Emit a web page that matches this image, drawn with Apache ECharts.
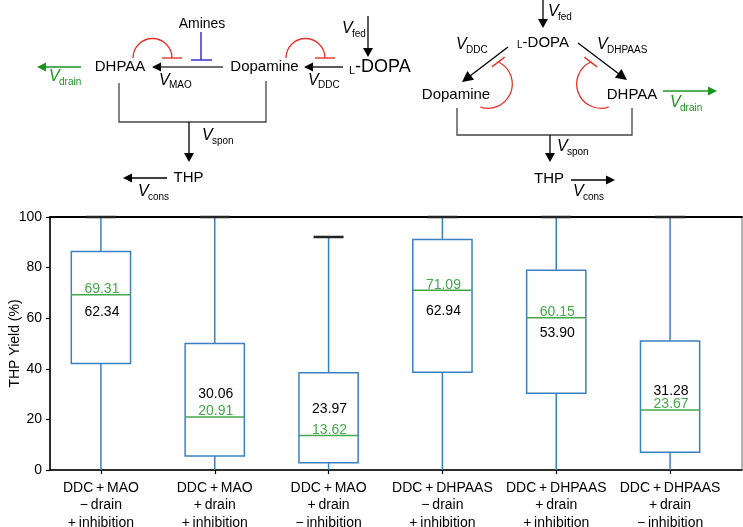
<!DOCTYPE html>
<html>
<head>
<meta charset="utf-8">
<script src="https://cdn.jsdelivr.net/npm/echarts@6/dist/echarts.min.js"></script>
<style>html,body{margin:0;padding:0;background:#fff;}#c{width:743px;height:527px;}</style>
</head>
<body>
<div id="c"></div>
<script>
// ---- data ----
const categories = [
  'DDC\u2009+\u2009MAO\n\u2212\u2009drain\n+\u2009inhibition',
  'DDC\u2009+\u2009MAO\n+\u2009drain\n+\u2009inhibition',
  'DDC\u2009+\u2009MAO\n+\u2009drain\n\u2212\u2009inhibition',
  'DDC\u2009+\u2009DHPAAS\n\u2212\u2009drain\n+\u2009inhibition',
  'DDC\u2009+\u2009DHPAAS\n+\u2009drain\n+\u2009inhibition',
  'DDC\u2009+\u2009DHPAAS\n+\u2009drain\n\u2212\u2009inhibition'
];
const whiskerLow  = [0, 0, 0, 0, 0, 0];
const q1          = [42.1, 5.5, 2.9, 38.6, 30.3, 7.0];
const medians     = [69.31, 20.91, 13.62, 71.09, 60.15, 23.67];
const q3          = [86.4, 50.0, 38.4, 91.1, 79.0, 51.0];
const whiskerHigh = [100, 100, 92.1, 100, 100, 100];
const means       = [62.34, 30.06, 23.97, 62.94, 53.90, 31.28];
const yTickValues = [0, 20, 40, 60, 80, 100];

const FONT = '"Liberation Sans", Arial, sans-serif';
const BLUE = '#3b80c0';
const GREEN = '#43a84a';
const DGREEN = '#1e9420';
const RED = '#e5332a';

const boxData = categories.map((c, i) => [i, whiskerLow[i], q1[i], medians[i], q3[i], whiskerHigh[i], means[i]]);

// ---- diagram helpers ----
function txt(x, y, s, size, color, align, italic) {
  return {type: 'text', x: x, y: y, z: 10,
    style: {text: s, font: (italic ? 'italic ' : '') + size + 'px ' + FONT, fill: color || '#000',
      textAlign: align || 'center', textVerticalAlign: 'middle'}};
}
function vlab(x, y, sub, color) {
  return [txt(x, y, 'V', 16, color, 'left', true), txt(x + 10, y + 5, sub, 10, color, 'left')];
}
function seg(x1, y1, x2, y2, color, lw) {
  return {type: 'line', z: 10, shape: {x1: x1, y1: y1, x2: x2, y2: y2}, style: {stroke: color, lineWidth: lw}};
}
function arrow(x1, y1, x2, y2, color, lw, hl, hw, headColor) {
  const dx = x2 - x1, dy = y2 - y1, L = Math.hypot(dx, dy), ux = dx / L, uy = dy / L;
  const bx = x2 - ux * hl, by = y2 - uy * hl;
  return [seg(x1, y1, bx + ux * 1, by + uy * 1, color, lw),
    {type: 'polygon', z: 10, shape: {points: [[x2, y2], [bx - uy * hw, by + ux * hw], [bx + uy * hw, by - ux * hw]]},
     style: {fill: headColor || color}}];
}
function arc(cx, cy, r, a0, a1, color) {
  return {type: 'arc', z: 10, shape: {cx: cx, cy: cy, r: r, startAngle: a0, endAngle: a1, clockwise: true},
    style: {stroke: color, fill: 'none', lineWidth: 1.3}};
}
function bar(cx, cy, ux, uy, h, color) {
  return seg(cx - ux * h, cy - uy * h, cx + ux * h, cy + uy * h, color, 1.4);
}
const D = Math.PI / 180;

let els = [];
// left diagram
els.push(txt(202, 24, 'Amines', 14));
els.push(seg(201, 32, 201, 60, '#3535c8', 1.5), seg(191, 60, 212, 60, '#3535c8', 1.5));
els.push(arc(152.5, 58, 19.5, Math.PI, 2 * Math.PI, RED), seg(162, 58, 182, 58, RED, 1.4));
els.push(arc(305.5, 58, 19.5, Math.PI, 2 * Math.PI, RED), seg(315, 58, 335, 58, RED, 1.4));
els.push(txt(120, 67, 'DHPAA', 15), txt(264.5, 67, 'Dopamine', 15));
els.push(...arrow(223, 67, 152, 67, '#707070', 2.2, 9, 4.5, '#000'));
els.push(...vlab(159, 80.5, 'MAO'));
els.push(...arrow(343, 67, 304, 67, '#000', 1.3, 9, 4.5));
els.push(...vlab(308, 80.5, 'DDC'));
els.push({type: 'text', x: 349, y: 67, z: 10, style: {text: '{a|L}{b|-DOPA}', textAlign: 'left', textVerticalAlign: 'middle', fill: '#000',
  rich: {a: {font: '11px ' + FONT, verticalAlign: 'bottom', fill: '#000'}, b: {font: '18px ' + FONT, verticalAlign: 'bottom', fill: '#000'}}}});
els.push(...arrow(368, 16, 368, 57, '#000', 1.3, 9, 5));
els.push(...vlab(342, 29, 'fed'));
els.push(...arrow(81, 67, 37, 67, DGREEN, 1.5, 9, 4.5));
els.push(...vlab(49, 77, 'drain', DGREEN));
els.push({type: 'polyline', z: 10, shape: {points: [[119, 83], [119, 122], [266, 122], [266, 81]]}, style: {stroke: '#444', lineWidth: 1.3, fill: 'none'}});
els.push(...arrow(189, 122, 189, 162, '#000', 1.3, 9, 5));
els.push(...vlab(202, 136, 'spon'));
els.push(txt(188.5, 178, 'THP', 15));
els.push(...arrow(167, 178, 123, 178, '#000', 1.3, 9, 4.5));
els.push(...vlab(138, 192, 'cons'));
// right diagram
els.push(...arrow(543, 0, 543, 28, '#000', 1.3, 9, 5));
els.push(...vlab(548, 12, 'fed'));
els.push({type: 'text', x: 543, y: 43, z: 10, style: {text: '{a|L}{b|-DOPA}', textAlign: 'center', textVerticalAlign: 'middle', fill: '#000',
  rich: {a: {font: '10px ' + FONT, verticalAlign: 'bottom', fill: '#000'}, b: {font: '15px ' + FONT, verticalAlign: 'bottom', fill: '#000'}}}});
els.push(...arrow(508, 47, 462, 82, '#000', 1.3, 11, 5.5));
els.push(...vlab(456, 45, 'DDC'));
els.push(...arrow(578, 43, 627, 80, '#000', 1.3, 11, 5.5));
els.push(...vlab(597, 45, 'DHPAAS'));
els.push(txt(456, 95, 'Dopamine', 15), txt(632, 95, 'DHPAA', 15));
els.push(arc(488, 84, 24.3, -64.9 * D, 108.5 * D, RED), bar(498.3, 62, -0.796, 0.605, 8, RED));
els.push(arc(601, 84, 24.3, 71.5 * D, 244.9 * D, RED), bar(590.7, 62, 0.796, 0.605, 8, RED));
els.push(...arrow(663, 91, 717, 91, DGREEN, 1.5, 9, 4.5));
els.push(...vlab(670, 103, 'drain', DGREEN));
els.push({type: 'polyline', z: 10, shape: {points: [[457, 108], [457, 135], [632, 135], [632, 108]]}, style: {stroke: '#444', lineWidth: 1.3, fill: 'none'}});
els.push(...arrow(550, 135, 550, 162, '#000', 1.3, 9, 5));
els.push(...vlab(557, 147, 'spon'));
els.push(txt(549, 179, 'THP', 15));
els.push(...arrow(571, 180, 615, 180, '#000', 1.3, 9, 4.5));
els.push(...vlab(573, 192, 'cons'));

const chart = echarts.init(document.getElementById('c'), null, {renderer: 'canvas'});
chart.setOption({
  backgroundColor: '#fff',
  animation: false,
  textStyle: {fontFamily: FONT},
  grid: [
    {left: 50, right: 1, top: 217, bottom: 57, outerBoundsMode: 'none', containLabel: false,
     show: true, borderColor: '#666', borderWidth: 1, backgroundColor: 'transparent'},
    {left: 44, right: 16, top: 217, bottom: 57, outerBoundsMode: 'none', containLabel: false}
  ],
  xAxis: [
    {type: 'value', gridIndex: 0, min: 0, max: 1, axisLine: {show: true, lineStyle: {color: '#000', width: 1.5}},
     axisTick: {show: false}, axisLabel: {show: false}, splitLine: {show: false}},
    {type: 'category', gridIndex: 1, data: categories, boundaryGap: true,
     axisLine: {show: false}, axisTick: {show: true, alignWithLabel: true, length: 4, lineStyle: {color: '#000', width: 1.2}},
     axisLabel: {color: '#000', fontSize: 14, fontFamily: FONT, lineHeight: 17.5, margin: 9, interval: 0}},
    {type: 'value', gridIndex: 0, position: 'top', min: 0, max: 1, axisLine: {show: true, onZero: false, lineStyle: {color: '#000', width: 1.8}},
     axisTick: {show: false}, axisLabel: {show: false}, splitLine: {show: false}}
  ],
  yAxis: [
    {type: 'value', gridIndex: 0, min: 0, max: 100, interval: 20,
     name: 'THP Yield (%)', nameLocation: 'middle', nameGap: 28, nameMoveOverlap: false,
     nameTextStyle: {color: '#000', fontSize: 14, fontFamily: FONT},
     axisLine: {show: true, lineStyle: {color: '#000', width: 1.5}},
     axisTick: {show: true, length: 4, lineStyle: {color: '#000', width: 1.2}},
     axisLabel: {color: '#000', fontSize: 14, fontFamily: FONT, margin: 8,
       customValues: yTickValues},
     splitLine: {show: false}},
    {type: 'value', gridIndex: 1, min: 0, max: 100, show: false}
  ],
  series: [{
    type: 'custom',
    xAxisIndex: 1, yAxisIndex: 1,
    data: boxData,
    encode: {x: 0, y: [1, 2, 3, 4, 5]},
    clip: false,
    z: 5,
    renderItem: function (params, api) {
      const i = api.value(0);
      const lo = api.coord([i, api.value(1)]);
      const b1 = api.coord([i, api.value(2)]);
      const md = api.coord([i, api.value(3)]);
      const b3 = api.coord([i, api.value(4)]);
      const hi = api.coord([i, api.value(5)]);
      const mn = api.coord([i, api.value(6)]);
      const band = api.size([1, 0])[0];
      const w = band * 0.52;
      const x = lo[0];
      return {type: 'group', children: [
        {type: 'line', shape: {x1: x, y1: lo[1], x2: x, y2: b1[1]}, style: {stroke: BLUE, lineWidth: 1.5}},
        {type: 'line', shape: {x1: x, y1: b3[1], x2: x, y2: hi[1]}, style: {stroke: BLUE, lineWidth: 1.5}},
        {type: 'line', shape: {x1: x - 15, y1: hi[1], x2: x + 15, y2: hi[1]}, style: {stroke: '#222', lineWidth: 2.5}},
        {type: 'rect', shape: {x: x - w / 2, y: b3[1], width: w, height: b1[1] - b3[1]}, style: {fill: 'transparent', stroke: BLUE, lineWidth: 1.5}},
        {type: 'line', shape: {x1: x - w / 2, y1: md[1], x2: x + w / 2, y2: md[1]}, style: {stroke: GREEN, lineWidth: 1.5}},
        {type: 'text', x: x + 1, y: md[1] + 1.5, style: {text: api.value(3).toFixed(2), fill: GREEN, font: '14px ' + FONT, textAlign: 'center', textVerticalAlign: 'bottom'}},
        {type: 'text', x: x + 1, y: mn[1], style: {text: api.value(6).toFixed(2), fill: '#000', font: '14px ' + FONT, textAlign: 'center', textVerticalAlign: 'middle'}}
      ]};
    }
  }],
  graphic: {elements: els}
});
</script>
</body>
</html>
